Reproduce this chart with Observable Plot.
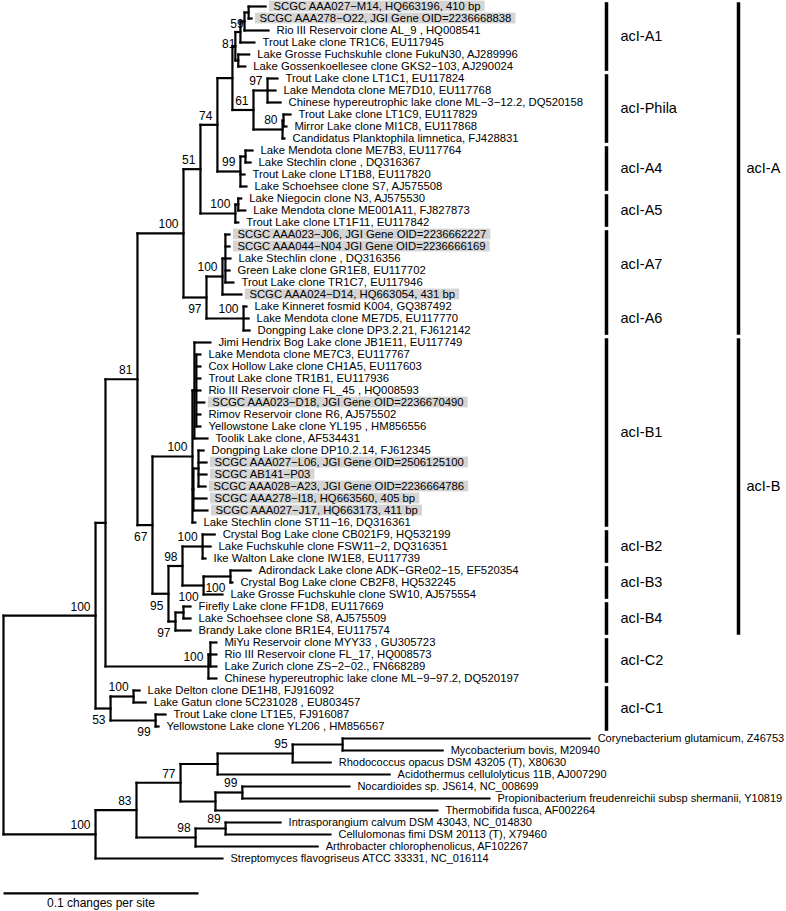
<!DOCTYPE html>
<html><head><meta charset="utf-8">
<script src="https://cdn.jsdelivr.net/npm/d3@7"></script>
<script src="https://cdn.jsdelivr.net/npm/@observablehq/plot@0.6"></script>
<style>body{margin:0;background:#fff;} #chart svg{display:block}</style>
</head><body><div id="chart"></div>
<script>
// ---------- DATA ----------
const leafNames = [
"SCGC AAA027−M14, HQ663196, 410 bp",
"SCGC AAA278−O22, JGI Gene OID=2236668838",
"Rio III Reservoir clone AL_9 , HQ008541",
"Trout Lake clone TR1C6, EU117945",
"Lake Grosse Fuchskuhle clone FukuN30, AJ289996",
"Lake Gossenkoellesee clone GKS2−103, AJ290024",
"Trout Lake clone LT1C1, EU117824",
"Lake Mendota clone ME7D10, EU117768",
"Chinese hypereutrophic lake clone ML−3−12.2, DQ520158",
"Trout Lake clone LT1C9, EU117829",
"Mirror Lake clone MI1C8, EU117868",
"Candidatus Planktophila limnetica, FJ428831",
"Lake Mendota clone ME7B3, EU117764",
"Lake Stechlin clone , DQ316367",
"Trout Lake clone LT1B8, EU117820",
"Lake Schoehsee clone S7, AJ575508",
"Lake Niegocin clone N3, AJ575530",
"Lake Mendota clone ME001A11, FJ827873",
"Trout Lake clone LT1F11, EU117842",
"SCGC AAA023−J06, JGI Gene OID=2236662227",
"SCGC AAA044−N04 JGI Gene OID=2236666169",
"Lake Stechlin clone , DQ316356",
"Green Lake clone GR1E8, EU117702",
"Trout Lake clone TR1C7, EU117946",
"SCGC AAA024−D14, HQ663054, 431 bp",
"Lake Kinneret fosmid K004, GQ387492",
"Lake Mendota clone ME7D5, EU117770",
"Dongping Lake clone DP3.2.21, FJ612142",
"Jimi Hendrix Bog Lake clone JB1E11, EU117749",
"Lake Mendota clone ME7C3, EU117767",
"Cox Hollow Lake clone CH1A5, EU117603",
"Trout Lake clone TR1B1, EU117936",
"Rio III Reservoir clone FL_45 , HQ008593",
"SCGC AAA023−D18, JGI Gene OID=2236670490",
"Rimov Reservoir clone R6, AJ575502",
"Yellowstone Lake clone YL195 , HM856556",
"Toolik Lake clone, AF534431",
"Dongping Lake clone DP10.2.14, FJ612345",
"SCGC AAA027−L06, JGI Gene OID=2506125100",
"SCGC AB141−P03",
"SCGC AAA028−A23, JGI Gene OID=2236664786",
"SCGC AAA278−I18, HQ663560, 405 bp",
"SCGC AAA027−J17, HQ663173, 411 bp",
"Lake Stechlin clone ST11−16, DQ316361",
"Crystal Bog Lake clone CB021F9, HQ532199",
"Lake Fuchskuhle clone FSW11−2, DQ316351",
"Ike Walton Lake clone IW1E8, EU117739",
"Adirondack Lake clone ADK−GRe02−15, EF520354",
"Crystal Bog Lake clone CB2F8, HQ532245",
"Lake Grosse Fuchskuhle clone SW10, AJ575554",
"Firefly Lake clone FF1D8, EU117669",
"Lake Schoehsee clone S8, AJ575509",
"Brandy Lake clone BR1E4, EU117574",
"MiYu Reservoir clone MYY33 , GU305723",
"Rio III Reservoir clone FL_17, HQ008573",
"Lake Zurich clone ZS−2−02., FN668289",
"Chinese hypereutrophic lake clone ML−9−97.2, DQ520197",
"Lake Delton clone DE1H8, FJ916092",
"Lake Gatun clone 5C231028 , EU803457",
"Trout Lake clone LT1E5, FJ916087",
"Yellowstone Lake clone YL206 , HM856567",
"Corynebacterium glutamicum, Z46753",
"Mycobacterium bovis, M20940",
"Rhodococcus opacus DSM 43205 (T), X80630",
"Acidothermus cellulolyticus 11B, AJ007290",
"Nocardioides sp. JS614, NC_008699",
"Propionibacterium freudenreichii subsp shermanii, Y10819",
"Thermobifida fusca, AF002264",
"Intrasporangium calvum DSM 43043, NC_014830",
"Cellulomonas fimi DSM 20113 (T), X79460",
"Arthrobacter chlorophenolicus, AF102267",
"Streptomyces flavogriseus ATCC 33331, NC_016114"
];
const firstOutgroupLeaf = 61;

// Tree topology (leaf = index into leafNames), bootstrap support as node label
// ("b" suffix = support printed under the branch), branch lengths in 0.001 changes/site
const cladeA1    = "((((0:8.7,1:1.5)59b:2.1,2:12.3):2.1,3:7.2)81b:2.6,(4:5.6,5:3.6):1.5):1.5";
const cladePhila = "((6:5.1,7:4.1,8:6.7)97:7.2,((9:3.6,10:1.5):0.5,11:1.0)80:14.9)61:10.8";
const cladeA4    = "((12:3.6,13:2.6):2.6,14:2.1,15:3.1)99:11.8";
const cladeA5    = "((16:1.5,17:3.6):1.5,18:1.5)100:17.9";
const cladeA7    = "((19:2.1,20:2.1,21:2.6,22:2.1,23:4.1):1.5,24:9.7)100:8.2";
const cladeA6    = "(25:1.5,26:2.6,27:3.1)100:19.0";
const cladeB1    = "((28:8.2,(29:2.1,30:2.1,31:2.1,32:2.1,33:4.1,34:2.1,35:2.1):1.0,36:6.7):1.0,((37:2.6,38:4.1,39:4.1,40:3.6):2.6,41:6.7,42:7.2):0.5,43:1.5)100:20.5";
const cladeB2    = "(44:6.2,45:4.1,46:1.5)100:10.3";
const cladeB3    = "((47:10.3,48:1.0)100b:13.8,49:9.7)100b:10.8";
const cladeB4    = "((50:3.6,51:3.6):4.1,52:7.7)97b:3.6";
const cladeC2    = "((53:3.1,54:3.1,55:3.1):1.0,56:4.1)100:52.8";
const cladeC1    = "((57:3.1,58:6.2)100:11.8,(59:5.1,60:1.5)99b:23.1)53b:7.7";
const outgroup   = "((((((61:126.7,62:51.3):25.6,63:19.5)95:38.5,64:88.2):19.0,((65:54.9,66:126.7)99:13.8,67:113.8):17.9)77:22.6,((68:28.2,69:53.8)89:15.4,70:62.6)98:30.3)83:21.0,71:65.1)100:47.2";

const acIA = `((((${cladeA1},${cladePhila}):7.7,${cladeA4})74:8.7,${cladeA5})51:8.7,(${cladeA7},${cladeA6})97b:11.8)100:23.6`;
const acIB = `(${cladeB1},((${cladeB2},${cladeB3})98:7.2,${cladeB4})95b:8.2)67b:7.7`;
const treeNewick = `((((${acIA},${acIB})81:16.4,${cladeC2}):5.1,${cladeC1})100:47.2,${outgroup});`;

// clade annotation (leaf index ranges)
const subcladeNames = ["acI-A1","acI-Phila","acI-A4","acI-A5","acI-A7","acI-A6","acI-B1","acI-B2","acI-B3","acI-B4","acI-C2","acI-C1"];
const subcladeFirst = [0,6,12,16,19,25,28,44,47,50,53,57];
const subcladeLast  = [5,11,15,18,24,27,43,46,49,52,56,60];
const subcladeBars  = [[0,5],[6,11],[12,15],[16,18],[19,27],[28,43],[44,46],[47,49],[50,52],[53,56],[57,60]];
const lineageNames = ["acI-A","acI-B"];
const lineageFirst = [0,28];
const lineageLast  = [27,52];
const scaleBarLength = 0.1;
const scaleBarLabel = "0.1 changes per site";

// ---------- TREE PARSING / LAYOUT ----------
function parseNewick(s) {
  let i = 0;
  function node() {
    const n = {children: []};
    if (s[i] === "(") {
      i++;
      n.children.push(node());
      while (s[i] === ",") { i++; n.children.push(node()); }
      i++;
    }
    let lab = "";
    while (i < s.length && !",():;".includes(s[i])) lab += s[i++];
    n.label = lab.trim();
    n.length = 0;
    if (s[i] === ":") {
      i++; let num = "";
      while (i < s.length && !",();".includes(s[i])) num += s[i++];
      n.length = +num / 1000;
    }
    return n;
  }
  return node();
}
const root = parseNewick(treeNewick);
function place(n, depth) {
  n.x = depth + n.length;
  if (!n.children.length) { n.leaf = +n.label; n.y = n.leaf; }
  else {
    n.children.forEach(c => place(c, n.x));
    const ys = n.children.map(c => c.y);
    n.y = (d3.min(ys) + d3.max(ys)) / 2;
  }
}
place(root, 0);

const segments = [], leaves = [], boots = [];
(function walk(n, parent) {
  if (parent) segments.push({x1: parent.x, x2: n.x, y1: n.y, y2: n.y});
  if (n.children.length) {
    const ys = n.children.map(c => c.y);
    segments.push({x1: n.x, x2: n.x, y1: d3.min(ys), y2: d3.max(ys)});
    if (n.label) boots.push({x: n.x, y: n.y, text: n.label.replace("b", ""), below: n.label.endsWith("b")});
    n.children.forEach(c => walk(c, n));
  } else {
    leaves.push({x: n.x, y: n.y, name: leafNames[n.leaf], outgroup: n.leaf >= firstOutgroupLeaf});
  }
})(root, null);

// ---------- SCALES / MEASURES ----------
const X0 = 3, X1 = 783, XMAX = 0.4;
const xs = d3.scaleLinear().domain([0, XMAX]).range([X0, X1]);
const pxToUnits = px => px * XMAX / (X1 - X0);
const FONT = "'Liberation Sans', Arial, Helvetica, sans-serif";
const IN_FS = 11.3, OUT_FS = 11;
const ctx = document.createElement("canvas").getContext("2d");
ctx.font = `${IN_FS}px ${FONT}`;
const LABEL_GAP = 8;
const highlights = leaves.filter(d => d.name.startsWith("SCGC")).map(d => ({
  x1: d.x + pxToUnits(LABEL_GAP - 4),
  x2: d.x + pxToUnits(LABEL_GAP + ctx.measureText(d.name).width + 4),
  y1: d.y - 0.45, y2: d.y + 0.45
}));

const innerBarX = xs.invert(606), innerLabX = xs.invert(620);
const outerBarX = xs.invert(738), outerLabX = xs.invert(746);
const PAD = 0.36;
const bars = subcladeBars.map(([a, b]) => ({x: innerBarX, y1: a - PAD, y2: b + PAD}))
  .concat(lineageFirst.map((a, i) => ({x: outerBarX, y1: a - PAD, y2: lineageLast[i] + PAD})));
const subLabels = subcladeNames.map((t, i) => ({t, y: (subcladeFirst[i] + subcladeLast[i]) / 2}));
const linLabels = lineageNames.map((t, i) => ({t, y: (lineageFirst[i] + lineageLast[i]) / 2}));

const chart = Plot.plot({
  width: 786, height: 911, margin: 0,
  x: {domain: [0, XMAX], range: [X0, X1], axis: null},
  y: {domain: [0, 71], range: [6, 858], axis: null},
  style: {fontFamily: FONT, background: "#fff", color: "#000"},
  marks: [
    Plot.rect(highlights, {x1: "x1", x2: "x2", y1: "y1", y2: "y2", fill: "#d4d4d4"}),
    Plot.link(segments, {x1: "x1", y1: "y1", x2: "x2", y2: "y2", stroke: "#000", strokeWidth: 2.2, strokeLinecap: "square"}),
    Plot.text(leaves.filter(d => !d.outgroup), {x: "x", y: "y", text: "name", textAnchor: "start", dx: LABEL_GAP, fontSize: IN_FS, fill: "#000"}),
    Plot.text(leaves.filter(d => d.outgroup), {x: "x", y: "y", text: "name", textAnchor: "start", dx: LABEL_GAP, fontSize: OUT_FS, fill: "#000"}),
    Plot.text(boots.filter(d => !d.below), {x: "x", y: "y", text: "text", textAnchor: "end", dx: -5, dy: -9, fontSize: 12, fill: "#000"}),
    Plot.text(boots.filter(d => d.below), {x: "x", y: "y", text: "text", textAnchor: "end", dx: -5, dy: 12, fontSize: 12, fill: "#000"}),
    Plot.link(bars, {x1: "x", x2: "x", y1: "y1", y2: "y2", stroke: "#000", strokeWidth: 3.5}),
    Plot.text(subLabels, {x: innerLabX, y: "y", text: "t", textAnchor: "start", fontSize: 14.5, fill: "#000"}),
    Plot.text(linLabels, {x: outerLabX, y: "y", text: "t", textAnchor: "start", fontSize: 14.5, fill: "#000"}),
    Plot.link([{}], {x1: 0, x2: scaleBarLength, y1: 73.9, y2: 73.9, stroke: "#000", strokeWidth: 2.2}),
    Plot.text([scaleBarLabel], {x: scaleBarLength / 2, y: 74.75, text: d => d, textAnchor: "middle", fontSize: 12, fill: "#000"})
  ]
});
document.getElementById("chart").appendChild(chart);
</script>
</body></html>
